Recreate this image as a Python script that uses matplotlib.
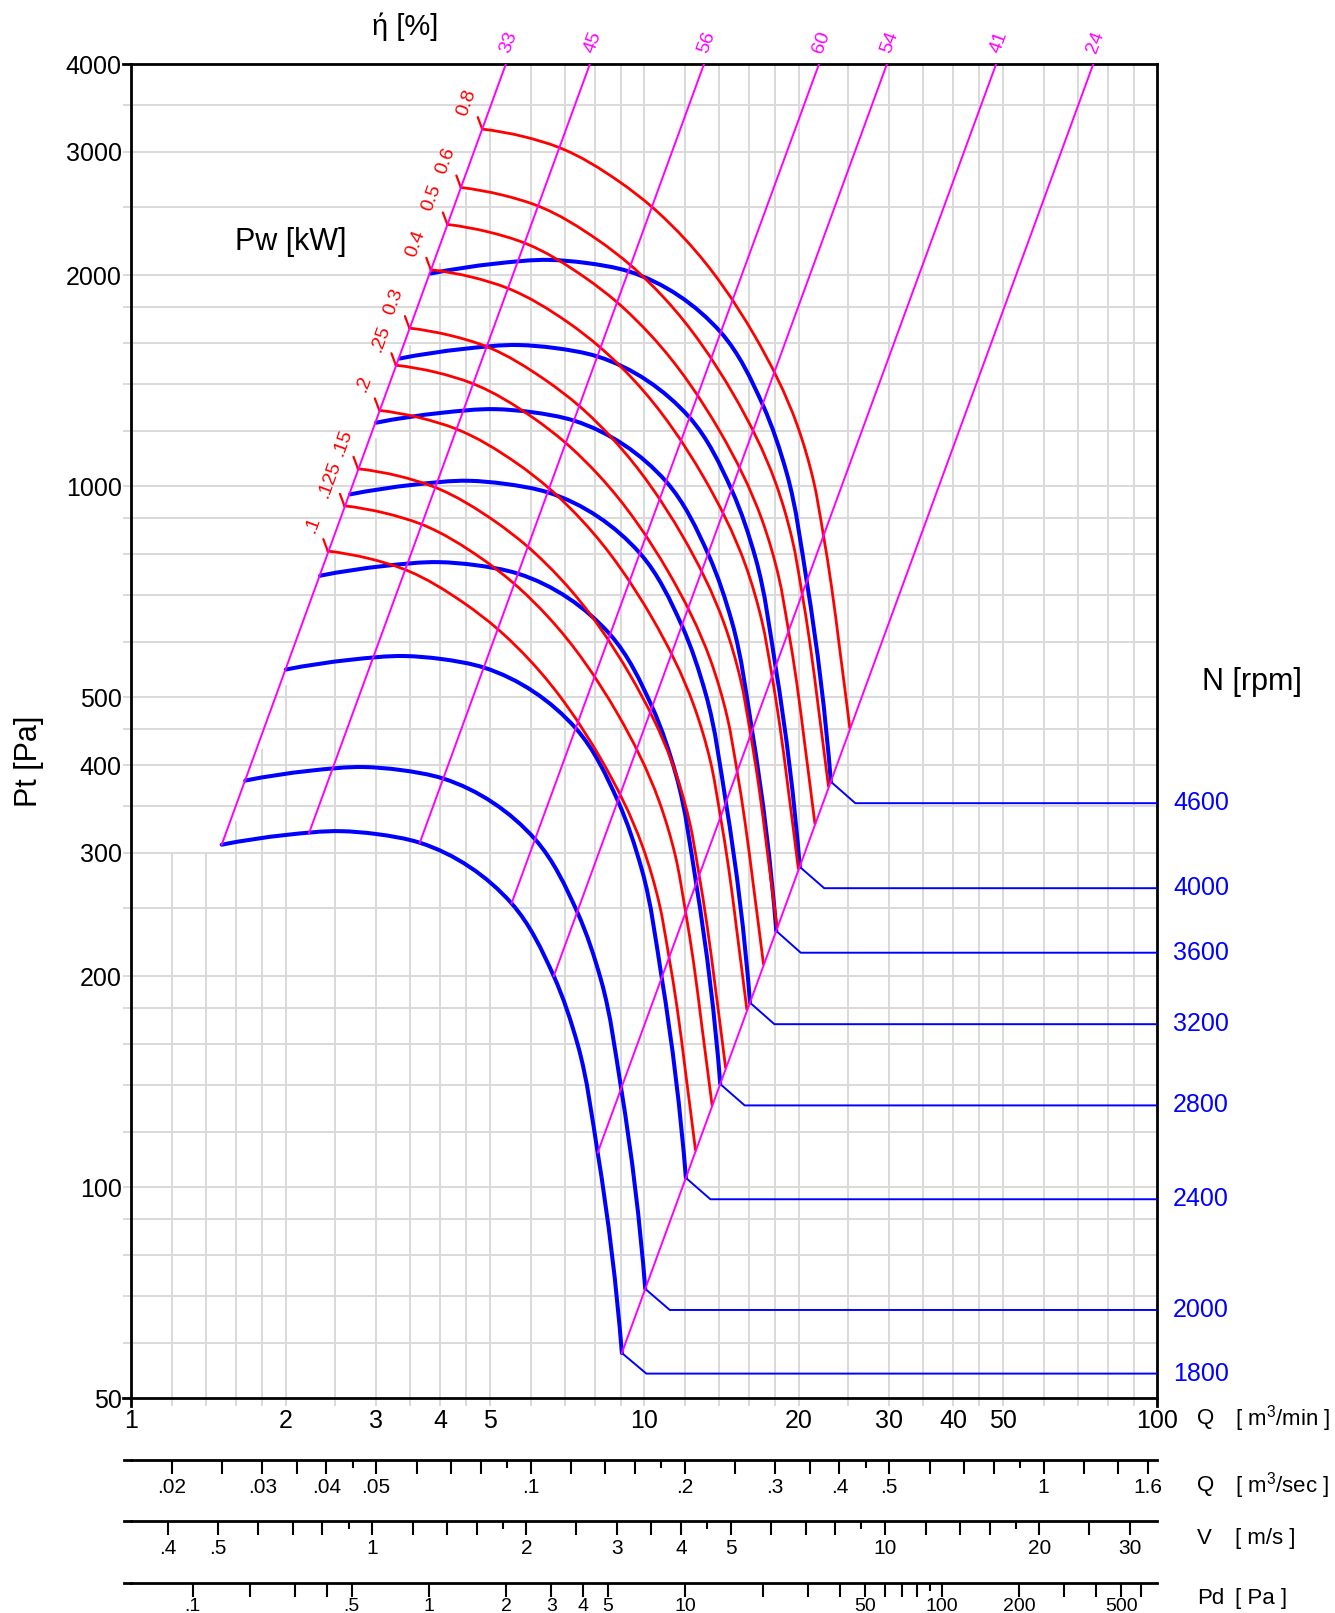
import numpy as np
import matplotlib
matplotlib.use("Agg")
from matplotlib import pyplot as plt
from matplotlib.ticker import NullFormatter
from matplotlib.transforms import blended_transform_factory
from matplotlib.path import Path
from matplotlib.patches import PathPatch

plt.rcParams['font.family'] = ['Liberation Sans', 'DejaVu Sans']
plt.rcParams['mathtext.fontset'] = 'custom'
plt.rcParams['mathtext.rm'] = 'Liberation Sans'
plt.rcParams['mathtext.it'] = 'Liberation Sans'

# fan curves, Q [m3/min] / Pt [Pa]
rpm = [1800, 2000, 2400, 2800, 3200, 3600, 4000, 4600]

q_1800 = [1.50, 2.00, 2.56, 3.00, 3.65, 5.51, 6.66, 7.41, 8.11, 9.04]
p_1800 = [308, 318, 322, 319, 310, 254, 200, 160, 112, 58]
q_2000 = [1.667, 2.222, 2.844, 3.333, 4.056, 6.122, 7.400, 8.233, 9.011, 10.04]
p_2000 = [380.2, 392.6, 397.5, 393.8, 382.7, 313.6, 246.9, 197.5, 138.3, 71.6]
q_2400 = [2.000, 2.667, 3.413, 4.000, 4.867, 7.347, 8.880, 9.880, 10.81, 12.05]
p_2400 = [547.6, 565.3, 572.4, 567.1, 551.1, 451.6, 355.6, 284.4, 199.1, 103.1]
q_2800 = [2.333, 3.111, 3.982, 4.667, 5.678, 8.571, 10.36, 11.53, 12.62, 14.06]
p_2800 = [745.3, 769.5, 779.2, 771.9, 750.1, 614.6, 484.0, 387.2, 271.0, 140.3]
q_3200 = [2.667, 3.556, 4.551, 5.333, 6.489, 9.796, 11.84, 13.17, 14.42, 16.07]
p_3200 = [973.4, 1005, 1018, 1008, 979.8, 802.8, 632.1, 505.7, 354.0, 183.3]
q_3600 = [3.00, 4.00, 5.12, 6.00, 7.30, 11.02, 13.32, 14.82, 16.22, 18.08]
p_3600 = [1232, 1272, 1288, 1276, 1240, 1016, 800, 640, 448, 232]
q_4000 = [3.333, 4.444, 5.689, 6.667, 8.111, 12.24, 14.80, 16.47, 18.02, 20.09]
p_4000 = [1521, 1570, 1590, 1575, 1531, 1254, 987.7, 790.1, 553.1, 286.4]
q_4600 = [3.833, 5.111, 6.542, 7.667, 9.328, 14.08, 17.02, 18.94, 20.73, 23.10]
p_4600 = [2011, 2077, 2103, 2083, 2025, 1659, 1306, 1045, 731.5, 378.8]

# end of each curve -> leader to the rpm label
conn_q = [10.09, 11.21, 13.45, 15.69, 17.93, 20.18, 22.42, 25.78]
level_p = [54.2, 66.8, 96.1, 130.8, 170.8, 216, 267, 353]

# shaft power lines Pw [kW]
pw_labels = ['.1', '.125', '.15', '.2', '.25', '0.3', '0.4', '0.5', '0.6', '0.8']
q_w010 = [2.415, 2.900, 3.400, 4.480, 5.160, 6.030, 8.200, 9.915, 10.68, 11.13, 11.59, 12.03, 12.58]
p_w010 = [808, 788.8, 761.3, 679, 626.8, 560.8, 410, 306.5, 254.8, 216.3, 179.8, 146, 113]
q_w0125 = [2.602, 3.124, 3.663, 4.826, 5.559, 6.496, 8.833, 10.68, 11.51, 11.99, 12.48, 12.95, 13.55]
p_w0125 = [937.6, 915.3, 883.4, 787.9, 727.3, 650.7, 475.8, 355.7, 295.6, 250.9, 208.6, 169.4, 131.1]
q_w015 = [2.765, 3.320, 3.892, 5.128, 5.907, 6.903, 9.387, 11.35, 12.23, 12.74, 13.26, 13.77, 14.40]
p_w015 = [1059, 1034, 997.5, 889.8, 821.3, 734.8, 537.3, 401.6, 333.8, 283.4, 235.5, 191.3, 148.1]
q_w020 = [3.043, 3.654, 4.284, 5.644, 6.501, 7.597, 10.33, 12.49, 13.46, 14.02, 14.60, 15.15, 15.84]
p_w020 = [1283, 1252, 1208, 1078, 994.9, 890.1, 650.8, 486.5, 404.4, 343.3, 285.3, 231.8, 179.4]
q_w025 = [3.278, 3.936, 4.615, 6.080, 7.003, 8.184, 11.13, 13.46, 14.50, 15.11, 15.72, 16.32, 17.07]
p_w025 = [1488, 1453, 1402, 1251, 1155, 1033, 755.2, 564.6, 469.2, 398.3, 331.1, 268.9, 208.1]
q_w030 = [3.483, 4.183, 4.904, 6.461, 7.442, 8.697, 11.83, 14.30, 15.40, 16.05, 16.71, 17.34, 18.14]
p_w030 = [1681, 1641, 1584, 1412, 1304, 1166, 852.8, 637.5, 529.9, 449.8, 373.9, 303.7, 235.0]
q_w040 = [3.834, 4.604, 5.397, 7.112, 8.191, 9.572, 13.02, 15.74, 16.95, 17.67, 18.39, 19.09, 19.96]
p_w040 = [2036, 1988, 1918, 1711, 1579, 1413, 1033, 772.3, 641.9, 544.9, 452.9, 367.9, 284.7]
q_w050 = [4.130, 4.959, 5.814, 7.661, 8.824, 10.31, 14.02, 16.95, 18.26, 19.03, 19.81, 20.56, 21.50]
p_w050 = [2363, 2306, 2226, 1985, 1833, 1640, 1199, 896.2, 744.9, 632.3, 525.6, 426.9, 330.4]
q_w060 = [4.388, 5.270, 6.178, 8.141, 9.376, 10.96, 14.90, 18.02, 19.41, 20.23, 21.05, 21.85, 22.85]
p_w060 = [2668, 2604, 2514, 2242, 2070, 1852, 1354, 1012, 841.2, 714.0, 593.5, 482.1, 373.1]
q_w080 = [4.83, 5.80, 6.80, 8.96, 10.32, 12.06, 16.4, 19.83, 21.36, 22.26, 23.17, 24.05, 25.15]
p_w080 = [3232, 3155, 3045, 2716, 2507, 2243, 1640, 1226, 1019, 865, 719, 584, 452]

# efficiency lines (from the 1800 rpm curve up to the top border)
eff_labels = ['33', '45', '56', '60', '54', '41', '24']
eff_q_low = [1.50, 2.22, 3.65, 5.51, 6.66, 8.11, 9.04]
eff_p_low = [308, 320, 310, 254, 200, 112, 58]
eff_q_top = [5.37, 7.83, 13.07, 21.9, 29.7, 48.5, 75.0]

grid_q = [1.2, 1.4, 1.6, 1.8, 2, 2.5, 3, 3.5, 4, 4.5, 5, 6, 7, 8, 9, 10, 12, 14, 16, 18, 20, 25,
          30, 35, 40, 45, 50, 60, 70, 80, 90]
grid_p = [60, 70, 80, 90, 100, 120, 140, 160, 180, 200, 250, 300, 350, 400, 450, 500, 600, 700,
          800, 900, 1000, 1200, 1400, 1600, 1800, 2000, 2500, 3000, 3500]

# extra scales under the chart
qs_ticks = [0.02, 0.025, 0.03, 0.035, 0.04, 0.05, 0.06, 0.07, 0.08, 0.1, 0.12, 0.14, 0.16, 0.2, 0.25,
            0.3, 0.35, 0.4, 0.5, 0.6, 0.7, 0.8, 1, 1.2, 1.4, 1.6]
qs_labels = ['.02', '', '.03', '', '.04', '.05', '', '', '', '.1', '', '', '', '.2', '', '.3', '', '.4',
             '.5', '', '', '', '1', '', '', '1.6']
qs_short = [0.045, 0.09, 0.18, 0.45, 0.9]
v_ticks = [0.4, 0.5, 0.6, 0.7, 0.8, 1, 1.2, 1.4, 1.6, 2, 2.5, 3, 3.5, 4, 5, 6, 7, 8, 10, 12, 14, 16,
           20, 25, 30]
v_labels = ['.4', '.5', '', '', '', '1', '', '', '', '2', '', '3', '', '4', '5', '', '', '', '10', '',
            '', '', '20', '', '30']
v_short = [0.9, 1.8, 4.5, 9, 18]
pd_ticks = [0.12, 0.2, 0.3, 0.4, 0.5, 1, 2, 3, 4, 5, 10, 20, 30, 40, 50, 60, 70, 80, 100, 200, 300,
            400, 500, 600]
pd_labels = ['.1', '', '', '', '.5', '1', '2', '3', '4', '5', '10', '', '', '', '50', '', '', '', '100',
             '200', '', '', '500', '']
pd_short = [90]

DUCT = 2.945      # m3/min per m/s
HALF_RHO = 0.6

BLUE = '#0000ff'
RED = '#ff0000'
MAG = '#ff00ff'
GRID = '#d9d9d9'

blue_q = [q_1800, q_2000, q_2400, q_2800, q_3200, q_3600, q_4000, q_4600]
blue_p = [p_1800, p_2000, p_2400, p_2800, p_3200, p_3600, p_4000, p_4600]
red_q = [q_w010, q_w0125, q_w015, q_w020, q_w025, q_w030, q_w040, q_w050, q_w060, q_w080]
red_p = [p_w010, p_w0125, p_w015, p_w020, p_w025, p_w030, p_w040, p_w050, p_w060, p_w080]

fig = plt.figure(figsize=(13.35, 16.13), dpi=100)
ax = fig.add_axes([0.0984, 0.1332, 0.7685, 0.8270])
ax.set_xscale('log')
ax.set_yscale('log')
ax.set_xlim(1, 100)
ax.set_ylim(50, 4000)


def unit(v):
    return v / np.hypot(v[0], v[1])


def smooth(q, p, color, lw, z):
    # bezier through the read points, built on the screen coords of the log axes
    pts = ax.transData.transform(np.column_stack([q, p]))
    d = np.diff(pts, axis=0)
    L = np.hypot(d[:, 0], d[:, 1])
    u = d / L[:, None]
    n = len(pts)
    tang = np.zeros_like(pts)
    for i in range(1, n - 1):
        tang[i] = unit(L[i] * u[i - 1] + L[i - 1] * u[i])
    tang[0] = unit(2 * u[0] - tang[1])
    tang[-1] = unit(2 * u[-1] - tang[-2])
    verts = [pts[0]]
    codes = [Path.MOVETO]
    for i in range(n - 1):
        arm = L[i] / 3
        verts += [pts[i] + tang[i] * arm, pts[i + 1] - tang[i + 1] * arm, pts[i + 1]]
        codes += [Path.CURVE4] * 3
    verts = ax.transData.inverted().transform(np.array(verts))
    ax.add_patch(PathPatch(Path(verts, codes), fill=False, edgecolor=color, lw=lw, zorder=z,
                           capstyle='round', joinstyle='round'))


# grid: horizontal everywhere, vertical only inside the fan field
ax.hlines(grid_p, 1, 100, color=GRID, lw=1.4, zorder=0)
for q in grid_q:
    top = min(4000, max(300, 130 * q * q))
    ax.vlines(q, 50, top, color=GRID, lw=1.4, zorder=0)

ax.set_xticks([1, 2, 3, 4, 5, 10, 20, 30, 40, 50, 100])
ax.set_xticklabels(['1', '2', '3', '4', '5', '10', '20', '30', '40', '50', '100'])
ax.set_xticks(grid_q, minor=True)
ax.set_yticks([50, 100, 200, 300, 400, 500, 1000, 2000, 3000, 4000])
ax.set_yticklabels(['50', '100', '200', '300', '400', '500', '1000', '2000', '3000', '4000'])
ax.set_yticks(grid_p, minor=True)
ax.xaxis.set_minor_formatter(NullFormatter())
ax.yaxis.set_minor_formatter(NullFormatter())
ax.tick_params(which='both', color=GRID, width=1.4, length=6, direction='out', labelsize=18)
ax.tick_params(axis='x', pad=2)
ax.tick_params(axis='y', pad=1)
for s in ax.spines.values():
    s.set_linewidth(2)
for xs, ys in [([0, 0], [0, -0.006]), ([1, 1], [0, -0.006]), ([0, -0.008], [0, 0]), ([0, -0.008], [1, 1])]:
    ax.plot(xs, ys, transform=ax.transAxes, color='k', lw=2, clip_on=False)

# efficiency lines
for lab, ql, pl, qt in zip(eff_labels, eff_q_low, eff_p_low, eff_q_top):
    ax.plot([ql, qt], [pl, 4000], color=MAG, lw=1.4, zorder=5)
    ax.annotate(lab, xy=(qt, 4000), xytext=(2, 16), textcoords='offset points', rotation=70,
                ha='center', va='center', color=MAG, fontsize=14, annotation_clip=False)

# fan curves
trans = blended_transform_factory(ax.transAxes, ax.transData)
for n, q, p, cq, lp in zip(rpm, blue_q, blue_p, conn_q, level_p):
    smooth(q, p, BLUE, 2.9, 3)
    ax.plot([q[-1], cq, 100], [p[-1], lp, lp], color=BLUE, lw=1.4, zorder=3)
    ax.text(1.0155, lp, str(n), transform=trans, color=BLUE, fontsize=18, va='center', ha='left')

# power lines
for lab, q, p in zip(pw_labels, red_q, red_p):
    smooth(q, p, RED, 2.0, 4)
    ax.annotate('', xy=(q[0], p[0]), xytext=(-3.2, 8.6), textcoords='offset points',
                arrowprops=dict(arrowstyle='-', color=RED, lw=1.6, shrinkA=0, shrinkB=0))
    ax.annotate(lab, xy=(q[0], p[0]), xytext=(-11, 19), textcoords='offset points', rotation=70,
                ha='center', va='center', color=RED, fontsize=14)


# extra scales
def style_scale(sec, loc, size=15, pad=3):
    sec.tick_params(which='major', length=10, width=1.5, direction='out', labelsize=size, pad=pad)
    sec.tick_params(which='minor', length=6, width=1.5, direction='out')
    for s in sec.spines.values():
        s.set_linewidth(2)
    ax.plot([-0.007, 0], [loc, loc], transform=ax.transAxes, color='k', lw=2, clip_on=False)


loc_q, loc_v, loc_d = -0.0461, -0.0924, -0.1387

sec_q = ax.secondary_xaxis(loc_q, functions=(lambda q: q / 60, lambda s: s * 60))
sec_q.set_ticks(qs_ticks, labels=qs_labels)
sec_q.set_ticks(qs_short, minor=True)
sec_q.xaxis.set_minor_formatter(NullFormatter())
style_scale(sec_q, loc_q)

sec_v = ax.secondary_xaxis(loc_v, functions=(lambda q: q / DUCT, lambda v: v * DUCT))
sec_v.set_ticks(v_ticks, labels=v_labels)
sec_v.set_ticks(v_short, minor=True)
sec_v.xaxis.set_minor_formatter(NullFormatter())
style_scale(sec_v, loc_v)

sec_d = ax.secondary_xaxis(loc_d, functions=(lambda q: HALF_RHO * (q / DUCT) ** 2,
                                             lambda d: DUCT * np.sqrt(np.abs(d) / HALF_RHO)))
sec_d.set_ticks(pd_ticks, labels=pd_labels)
sec_d.set_ticks(pd_short, minor=True)
sec_d.xaxis.set_minor_formatter(NullFormatter())
style_scale(sec_d, loc_d, size=14, pad=1)

# titles and units
fig.text(0.3034, 0.9833, 'ή [%]', fontsize=21, ha='center', va='center')
fig.text(0.2175, 0.8500, 'Pw [kW]', fontsize=22, ha='center', va='center')
fig.text(0.0215, 0.5278, 'Pt [Pa]', fontsize=22, ha='center', va='center', rotation=90)
fig.text(0.9375, 0.577, 'N [rpm]', fontsize=22, ha='center', va='center')

fig.text(0.8966, 0.1206, 'Q', fontsize=16, ha='left', va='center')
fig.text(0.9250, 0.1206, '[ m$^3$/min ]', fontsize=16, ha='left', va='center')
fig.text(0.8966, 0.0792, 'Q', fontsize=16, ha='left', va='center')
fig.text(0.9250, 0.0792, '[ m$^3$/sec ]', fontsize=16, ha='left', va='center')
fig.text(0.8966, 0.0459, 'V', fontsize=16, ha='left', va='center')
fig.text(0.9250, 0.0459, '[ m/s ]', fontsize=16, ha='left', va='center')
fig.text(0.8966, 0.0090, 'Pd', fontsize=16, ha='left', va='center')
fig.text(0.9250, 0.0090, '[ Pa ]', fontsize=16, ha='left', va='center')

fig.savefig('out.png', dpi=100)
